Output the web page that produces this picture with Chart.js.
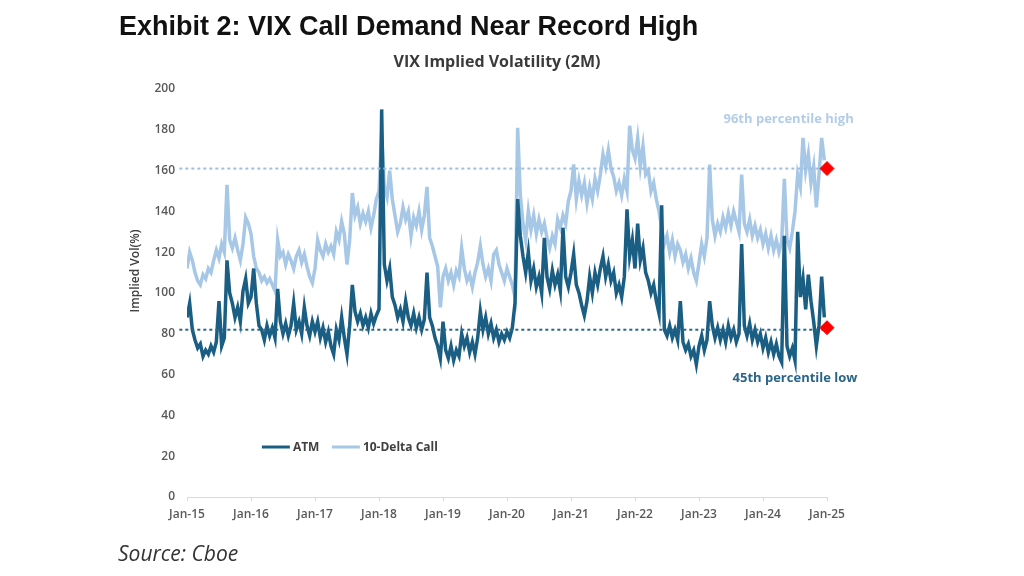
<!DOCTYPE html>
<html>
<head>
<meta charset="utf-8">
<script src="https://cdn.jsdelivr.net/npm/chart.js@4.4.1/dist/chart.umd.min.js"></script>
<style>
body { margin: 0; background: #fff; }
#wrap { position: relative; width: 1024px; height: 576px; overflow: hidden; background: #fff; }
#title { position: absolute; left: 119px; top: 11px; font: bold 27px "Liberation Sans", Arial, sans-serif; color: #111; white-space: nowrap; }
#source { position: absolute; left: 118px; top: 539px; font: italic 21px "Open Sans", sans-serif; color: #333; white-space: nowrap; }
canvas { position: absolute; left: 0; top: 0; }
</style>
</head>
<body>
<div id="wrap">
  <canvas id="chart" width="1024" height="576"></canvas>
  <div id="title">Exhibit 2: VIX Call Demand Near Record High</div>
  <div id="source">Source: Cboe</div>
</div>
<script>
// semi-monthly readings, Jan-15 .. Dec-24 (24 per year)
const startYear = 2015;
const perYear = 24;

const atm = [
    88,95,82,77,73,75,69,72,70,74,71,76,96,74,78,116,100,95,88,93,86,101,107,95,
    98,112,95,84,82,77,84,79,83,78,102,86,80,85,79,84,95,82,86,80,93,84,79,86,
    81,86,78,83,76,81,74,70,82,77,88,78,70,84,104,91,86,90,84,88,83,90,85,89,
    92,190,114,106,112,98,94,88,92,86,96,88,84,90,83,88,82,87,110,88,84,78,74,68,
    86,72,68,74,67,72,69,80,74,78,71,76,70,78,91,82,88,80,85,78,82,76,80,77,
    81,78,83,95,146,128,118,110,120,106,112,103,108,100,127,108,102,111,104,109,101,132,108,103,
    110,119,104,100,94,89,96,108,100,110,104,112,118,108,114,106,110,100,104,98,108,141,118,126,
    112,134,116,122,110,106,100,104,96,90,143,82,79,84,78,82,77,96,76,72,75,69,72,65,
    74,79,72,77,96,84,78,83,77,82,76,84,78,82,76,80,124,84,79,85,77,82,76,80,
    73,78,71,76,70,75,69,66,128,74,69,73,67,130,98,107,92,109,96,86,74,84,108,88
];

const call10d = [
    112,120,116,110,106,104,109,107,112,110,116,121,117,124,120,153,126,122,127,121,116,124,137,134,
    129,118,112,110,106,108,105,107,104,101,126,118,120,114,119,116,112,118,121,115,119,113,108,105,
    112,126,121,118,124,120,123,119,130,126,135,129,114,126,149,138,142,134,139,135,140,132,138,146,
    150,178,152,147,160,146,138,130,134,142,136,140,128,137,133,140,131,138,152,127,123,118,113,93,
    108,112,106,110,104,111,108,122,112,106,109,103,110,115,123,114,108,112,106,119,121,114,110,106,
    112,108,104,98,181,148,134,126,140,131,138,129,136,130,134,127,122,128,124,136,132,138,134,145,
    150,163,146,155,148,154,144,152,146,156,150,158,168,162,170,161,157,150,154,148,156,150,182,170,
    166,176,162,172,158,160,150,154,146,140,132,124,128,120,126,118,124,121,115,119,112,117,110,106,
    115,124,118,127,163,136,128,134,130,137,132,139,133,140,135,130,158,134,130,136,128,133,127,131,
    124,129,122,128,121,126,120,125,156,126,122,130,140,158,152,176,160,168,154,162,142,158,176,165
];

const tickLabels = ["Jan-15","Jan-16","Jan-17","Jan-18","Jan-19","Jan-20","Jan-21","Jan-22","Jan-23","Jan-24","Jan-25"];

const highLevel = 161;   // 96th percentile of 10-delta call vol
const lowLevel = 82;     // 45th percentile of ATM vol
const latestCall = 161;
const latestAtm = 83;

const darkBlue = '#1b5e83';
const lightBlue = '#a7c7e6';

function toPoints(arr) {
    return arr.map((v, i) => ({ x: startYear + i / perYear, y: v }));
}

const overlay = {
    id: 'overlay',
    afterDraw(chart) {
        const ctx = chart.ctx;
        const x = chart.scales.x;
        const y = chart.scales.y;
        ctx.save();

        // y axis title
        ctx.translate(136, 271);
        ctx.rotate(-Math.PI / 2);
        ctx.font = '600 12px "Open Sans"';
        ctx.fillStyle = '#404040';
        ctx.textAlign = 'center';
        ctx.textBaseline = 'middle';
        ctx.fillText('Implied Vol(%)', 0, 0);
        ctx.setTransform(1, 0, 0, 1, 0, 0);

        // subtitle
        ctx.font = 'bold 16px "Open Sans"';
        ctx.fillStyle = '#3a3a3a';
        ctx.fillText('VIX Implied Volatility (2M)', 497, 62);

        // legend
        const ly = y.getPixelForValue(24.5);
        let lx = x.getPixelForValue(2016.17);
        ctx.font = 'bold 12px "Open Sans"';
        ctx.textAlign = 'left';
        ctx.lineWidth = 3;
        chart.data.datasets.slice(0, 2).forEach((ds) => {
            ctx.strokeStyle = ds.borderColor;
            ctx.beginPath();
            ctx.moveTo(lx, ly);
            ctx.lineTo(lx + 28, ly);
            ctx.stroke();
            ctx.fillStyle = '#404040';
            ctx.fillText(ds.label, lx + 31, ly + 1);
            lx += 70;
        });

        // percentile notes
        ctx.textAlign = 'center';
        ctx.font = 'bold 13px "Open Sans"';
        ctx.fillStyle = '#b3cde8';
        ctx.fillText('96th percentile high', x.getPixelForValue(2024.4), y.getPixelForValue(185));
        ctx.fillStyle = '#2b6587';
        ctx.fillText('45th percentile low', x.getPixelForValue(2024.5), y.getPixelForValue(58));
        ctx.restore();
    }
};

new Chart(document.getElementById('chart'), {
    type: 'line',
    data: {
        datasets: [
            {
                label: 'ATM',
                data: toPoints(atm),
                borderColor: darkBlue,
                borderWidth: 3.5,
                pointRadius: 0,
                order: 1
            },
            {
                label: '10-Delta Call',
                data: toPoints(call10d),
                borderColor: lightBlue,
                borderWidth: 3.5,
                pointRadius: 0,
                order: 2
            },
            {
                label: 'high',
                data: [{ x: 2014.88, y: highLevel }, { x: 2025, y: highLevel }],
                borderColor: '#9dbfdf',
                borderWidth: 2,
                borderDash: [3, 3],
                pointRadius: 0,
                clip: false,
                order: 0
            },
            {
                label: 'low',
                data: [{ x: 2014.88, y: lowLevel }, { x: 2025, y: lowLevel }],
                borderColor: '#2a6689',
                borderWidth: 2,
                borderDash: [3, 3],
                pointRadius: 0,
                clip: false,
                order: 0
            },
            {
                type: 'scatter',
                label: 'latest',
                data: [{ x: 2025, y: latestCall }, { x: 2025, y: latestAtm }],
                pointStyle: 'rectRot',
                pointRadius: 7,
                backgroundColor: '#ff0000',
                borderColor: '#ff0000',
                clip: false,
                order: -1
            }
        ]
    },
    options: {
        responsive: false,
        animation: false,
        layout: { padding: { left: 120, right: 197, top: 89, bottom: 39 } },
        plugins: {
            legend: { display: false },
            tooltip: { enabled: false }
        },
        scales: {
            x: {
                type: 'linear',
                min: 2015,
                max: 2025,
                afterFit: (s) => { s.height = 40; },
                grid: { drawOnChartArea: false, tickLength: 4, color: '#d9d9d9' },
                border: { color: '#d9d9d9' },
                ticks: {
                    stepSize: 1,
                    maxRotation: 0,
                    padding: 6,
                    color: '#595959',
                    font: { family: 'Open Sans', size: 12, weight: '600' },
                    callback: (v) => tickLabels[Math.round(v - startYear)]
                }
            },
            y: {
                min: 0,
                max: 200,
                afterFit: (s) => { s.width = 67; },
                grid: { display: false, drawTicks: false },
                border: { display: false },
                ticks: {
                    stepSize: 20,
                    padding: 12,
                    color: '#595959',
                    font: { family: 'Open Sans', size: 12, weight: '600' }
                }
            }
        }
    },
    plugins: [overlay]
});
</script>
</body>
</html>
